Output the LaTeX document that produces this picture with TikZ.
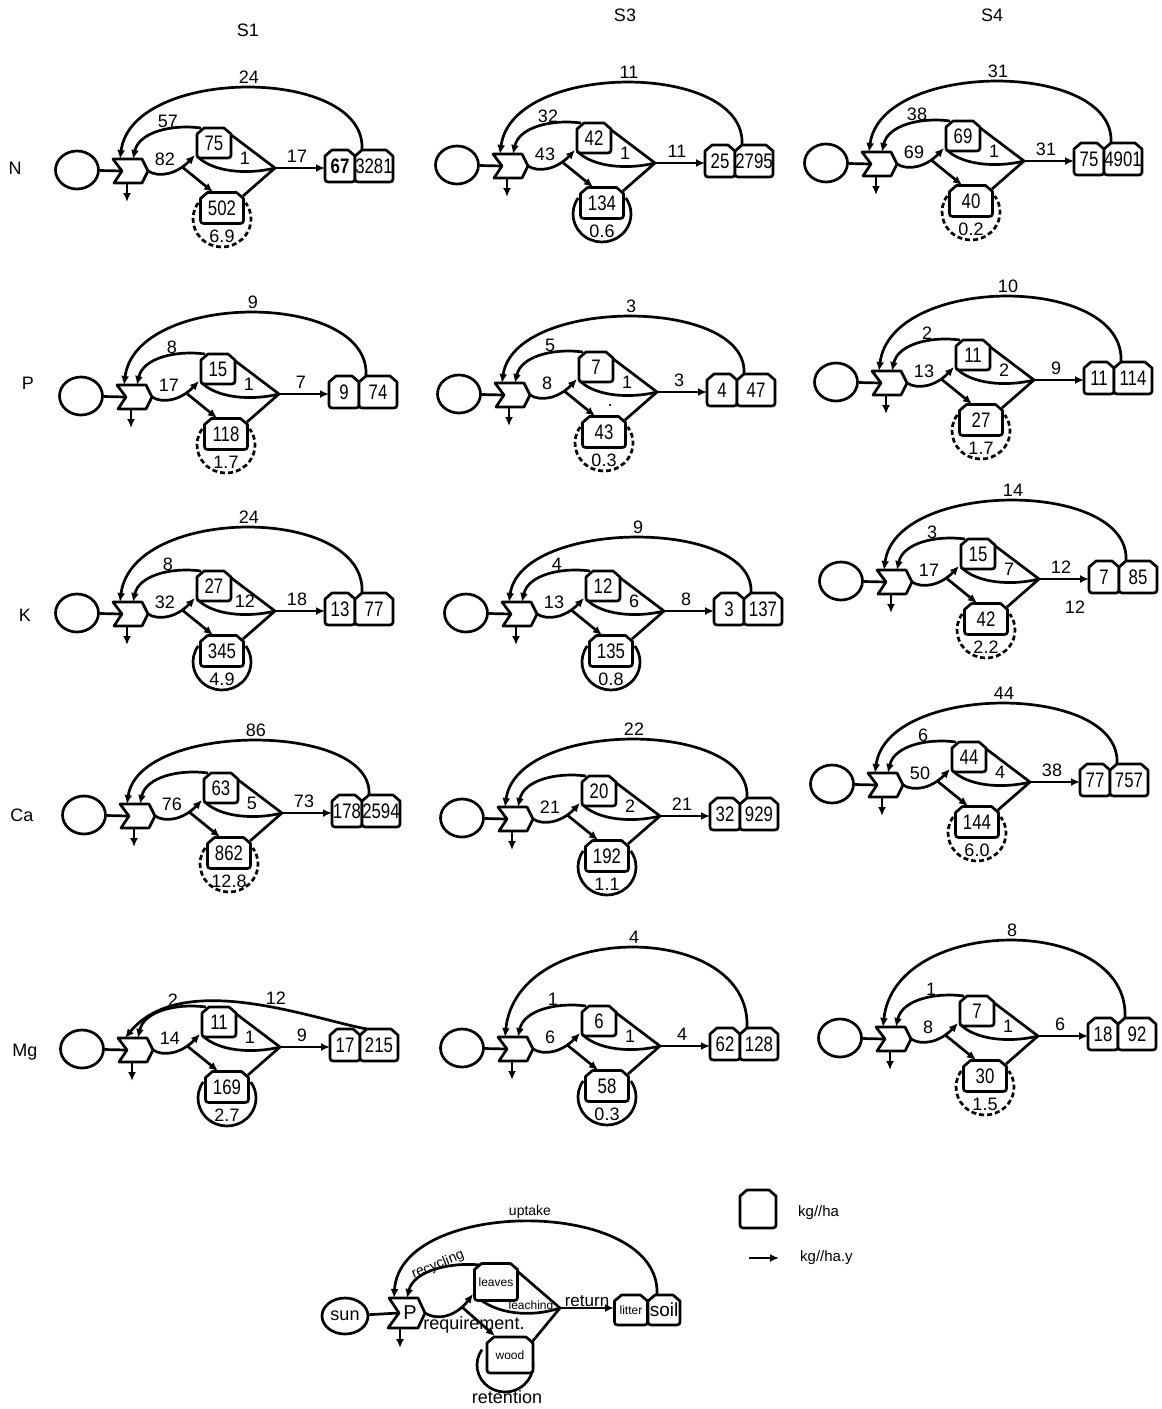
\documentclass[tikz,border=0pt]{standalone}
\usepackage{fontspec}
\setmainfont{Liberation Sans}
\newfontfamily\tankfont[FakeStretch=0.8]{Liberation Sans}
\usetikzlibrary{arrows.meta,shapes.geometric}

\tikzset{
  ln/.style={line width=2.7pt,line join=round},
  flow/.style={ln,-{Latex[length=9pt,width=8pt]}},
  tankline/.style={ln,fill=white},
  tanktext/.style={inner sep=0pt,font=\tankfont\fontsize{21}{21}\selectfont},
  lbl/.style={inner sep=0pt,font=\fontsize{18}{18}\selectfont},
  sunc/.style={ellipse,draw,ln,fill=white,inner sep=0pt,minimum width=43pt,minimum height=38pt},
  cycring/.style={},
  dashring/.style={dash pattern=on 5pt off 3pt},
}

\newif\ifcflat
\pgfkeys{/cyc/.cd,
  id/.store in=\cId, pos/.store in=\cPos, h/.store in=\cH,
  up/.store in=\cUp, rec/.store in=\cRec, req/.store in=\cReq, lch/.store in=\cLch,
  rtn/.store in=\cRtn, ret/.store in=\cRet, lv/.store in=\cLv, wd/.store in=\cWd,
  lt/.store in=\cLt, sl/.store in=\cSl,
  flat/.code={\cflattrue},
  ring/.code={\tikzset{cycring/.style={#1}}}}

% storage tank: name, x, y, width, height, text
\newcommand\Tank[6]{%
  \draw[tankline] ({#2-#4/2},{#3+#5/2-6}) -- ({#2-#4/2},{#3-#5/2+6}) -- ({#2-#4/2+7},{#3-#5/2})
    -- ({#2+#4/2-7},{#3-#5/2}) -- ({#2+#4/2},{#3-#5/2+6}) -- ({#2+#4/2},{#3+#5/2-6})
    .. controls ({#2+#4/2},{#3+#5/2}) .. ({#2+#4/2-7},{#3+#5/2}) -- ({#2-#4/2+7},{#3+#5/2})
    .. controls ({#2-#4/2},{#3+#5/2}) .. ({#2-#4/2},{#3+#5/2-6}) -- cycle;
  \node[tanktext,minimum width=#4pt,minimum height=#5pt] (#1) at (#2,#3) {#6};}

% one nutrient cycle, placed by the centre of its source circle
\newcommand\Cycle[1]{%
 \cflatfalse
 \pgfkeys{/cyc/.cd,h=82,rec={},ring={},#1}%
 \pgfmathsetmacro\cC{-(\cH-3.9)*4/3}%
 \begin{scope}[shift={(\cPos)}]
  \draw[ln,cycring] (145,49) ++(215:29 and 28) arc[start angle=215,end angle=-35,x radius=29,y radius=28];
  \coordinate (\cId-in) at (45,1);
  \coordinate (\cId-tip) at (71,1);
  \coordinate (\cId-upend) at (43,-11);
  \coordinate (\cId-recend) at (56,-11);
  \coordinate (\cId-pb) at (50,13);
  \coordinate (\cId-out) at (50,32);
  \coordinate (\cId-J) at (198,-2);
  \coordinate (\cId-br) at (104.6,-3.5);
  \coordinate (\cId-lvin) at (118,-15);
  \coordinate (\cId-lvtl) at (124,-42);
  \coordinate (\cId-lvtr) at (153,-36);
  \coordinate (\cId-lvbl) at (120,-14);
  \coordinate (\cId-wdin) at (136,22);
  \coordinate (\cId-wdtr) at (166,26);
  \coordinate (\cId-ltin) at (248,-2);
  \coordinate (\cId-slup) at (285,-20);
  \node[sunc] (\cId-sun) at (0,0) {};
  \draw[ln] (\cId-sun) -- (\cId-in);
  \draw[flow] (\cId-pb) -- (\cId-out);
  \ifcflat
   \draw[flow] (\cId-slup) .. controls (230,-30) and (100,-80) .. (\cId-upend);
   \node[lbl] (\cId-tup) at (194,-51) {\cUp};
  \else
   \draw[flow] (\cId-slup) .. controls (290,\cC) and (55,\cC) .. (\cId-upend);
   \node[lbl] (\cId-tup) at (172,{-\cH-11}) {\cUp};
  \fi
  \draw[flow] (\cId-lvtl) .. controls (95,-46) and (62,-38) .. (\cId-recend);
  \draw[flow] (\cId-tip) .. controls (82,8) and (100,4) .. (\cId-lvin);
  \draw[flow] (\cId-br) -- (\cId-wdin);
  \draw[ln] (\cId-lvtr) -- (\cId-J);
  \draw[ln] (\cId-lvbl) .. controls (135,2) and (170,5) .. (\cId-J);
  \draw[ln] (\cId-wdtr) -- (\cId-J);
  \draw[flow] (\cId-J) -- (\cId-ltin);
  \draw[ln,fill=white] (36,-11) -- (65,-11) -- (\cId-tip) -- (65,13) -- (37,13) -- (\cId-in) -- cycle;
  \Tank{\cId-lv}{137}{-27}{34}{30}{\cLv}
  \Tank{\cId-wd}{145}{38}{43}{31}{\cWd}
  \Tank{\cId-lt}{263}{-4}{30}{32}{\cLt}
  \Tank{\cId-sl}{297}{-4}{38}{32}{\cSl}
  \node[lbl] (\cId-trec) at (91,-49) {\cRec};
  \node[lbl] (\cId-treq) at (88,-11) {\cReq};
  \node[lbl] (\cId-tlch) at (168,-12) {\cLch};
  \node[lbl] (\cId-trtn) at (220,-14) {\cRtn};
  \node[lbl] (\cId-tret) at (145,66) {\cRet};
 \end{scope}}

\begin{document}
\begin{tikzpicture}[x=1pt,y=-1pt]
\fill[white] (0,0) rectangle (1162,1409);
\useasboundingbox (0,0) rectangle (1162,1409);

% column and row headings
\node[lbl] (h1) at (248,30) {S1};
\node[lbl] (h3) at (625,15) {S3};
\node[lbl] (h4) at (992,15) {S4};
\node[lbl] (rN) at (15,168) {N};
\node[lbl] (rP) at (28,383) {P};
\node[lbl] (rK) at (25,615) {K};
\node[lbl] (rCa) at (22,815) {Ca};
\node[lbl] (rMg) at (25,1052) {Mg};

% N
\Cycle{id=nA,pos={77,170},h=82,up=24,rec=57,req=82,lch=1,rtn=17,ret=6.9,lv=75,wd=502,lt={\bfseries 67},sl=3281,ring=dashring}
\Cycle{id=nB,pos={457,165},h=82,up=11,rec=32,req=43,lch=1,rtn=11,ret=0.6,lv=42,wd=134,lt=25,sl=2795}
\Cycle{id=nC,pos={826,163},h=81,up=31,rec=38,req=69,lch=1,rtn=31,ret=0.2,lv=69,wd=40,lt=75,sl=4901,ring=dashring}
% P
\Cycle{id=pA,pos={81,396},h=83,up=9,rec=8,req=17,lch=1,rtn=7,ret=1.7,lv=15,wd=118,lt=9,sl=74,ring=dashring}
\Cycle{id=pB,pos={459,394},h=77,up=3,rec=5,req=8,lch=1,rtn=3,ret=0.3,lv=7,wd=43,lt=4,sl=47,ring=dashring}
\node[lbl] (pB-dot) at (610,406) {.};
\Cycle{id=pC,pos={836,382},h=85,up=10,rec=2,req=13,lch=2,rtn=9,ret=1.7,lv=11,wd=27,lt=11,sl=114,ring=dashring}
% K
\Cycle{id=kA,pos={77,613},h=85,up=24,rec=8,req=32,lch=12,rtn=18,ret=4.9,lv=27,wd=345,lt=13,sl=77}
\Cycle{id=kB,pos={466,613},h=75,up=9,rec=4,req=13,lch=6,rtn=8,ret=0.8,lv=12,wd=135,lt=3,sl=137}
\Cycle{id=kC,pos={841,581},h=80,up=14,rec=3,req=17,lch=7,rtn=12,ret=2.2,lv=15,wd=42,lt=7,sl=85,ring=dashring}
\node[lbl] (kC-extra) at (1075,607) {12};
% Ca
\Cycle{id=cA,pos={84,815},h=74,up=86,req=76,lch=5,rtn=73,ret=12.8,lv=63,wd=862,lt=178,sl=2594,ring=dashring}
\Cycle{id=cB,pos={462,818},h=78,up=22,req=21,lch=2,rtn=21,ret=1.1,lv=20,wd=192,lt=32,sl=929}
\Cycle{id=cC,pos={832,784},h=80,up=44,rec=6,req=50,lch=4,rtn=38,ret=6.0,lv=44,wd=144,lt=77,sl=757,ring=dashring}
% Mg
\Cycle{id=mA,pos={82,1049},flat,up=12,rec=2,req=14,lch=1,rtn=9,ret=2.7,lv=11,wd=169,lt=17,sl=215}
\Cycle{id=mB,pos={462,1048},h=100,up=4,rec=1,req=6,lch=1,rtn=4,ret=0.3,lv=6,wd=58,lt=62,sl=128}
\Cycle{id=mC,pos={840,1038},h=97,up=8,rec=1,req=8,lch=1,rtn=6,ret=1.5,lv=7,wd=30,lt=18,sl=92,ring=dashring}

% key: storage and flow symbols
\Tank{lg-tank}{758}{1209}{36}{38}{}
\node[anchor=west,inner sep=0pt,font=\fontsize{15}{15}\selectfont] (lg-tanktxt) at (798,1213) {kg//ha};
\coordinate (lg-a0) at (749,1258);
\coordinate (lg-a1) at (779,1258);
\draw[flow] (lg-a0) -- (lg-a1);
\node[anchor=west,inner sep=0pt,font=\fontsize{15}{15}\selectfont] (lg-arrtxt) at (800,1258) {kg//ha.y};

% key: labelled cycle
\draw[ln] (505,1365) ++(215:28 and 27) arc[start angle=215,end angle=-35,x radius=28,y radius=27];
\coordinate (lg-in) at (399,1313);
\coordinate (lg-tip) at (425,1313);
\coordinate (lg-upend) at (394,1298);
\coordinate (lg-recend) at (407,1298);
\coordinate (lg-pb) at (400,1328);
\coordinate (lg-out) at (400,1348);
\coordinate (lg-J) at (560,1308);
\coordinate (lg-br) at (462,1307);
\coordinate (lg-lvin) at (473,1294);
\coordinate (lg-lvtl) at (480,1265);
\coordinate (lg-lvtr) at (516,1270);
\coordinate (lg-lvbl) at (476,1296);
\coordinate (lg-wdin) at (495,1336);
\coordinate (lg-wdtr) at (532,1342);
\coordinate (lg-ltin) at (614,1308);
\coordinate (lg-slup) at (657,1295);
\node[sunc,minimum width=46pt,minimum height=36pt,font=\fontsize{18}{18}\selectfont] (lg-sun) at (345,1316) {sun};
\draw[ln] (lg-sun) -- (lg-in);
\draw[flow] (lg-pb) -- (lg-out);
\draw[flow] (lg-slup) .. controls (662,1197) and (400,1197) .. (lg-upend);
\draw[flow] (lg-lvtl) .. controls (452,1262) and (414,1270) .. (lg-recend);
\draw[flow] (lg-tip) .. controls (440,1322) and (458,1314) .. (lg-lvin);
\draw[flow] (lg-br) -- (lg-wdin);
\draw[ln] (lg-lvtr) -- (lg-J);
\draw[ln] (lg-lvbl) .. controls (495,1314) and (530,1318) .. (lg-J);
\draw[ln] (lg-wdtr) -- (lg-J);
\draw[flow] (lg-J) -- (lg-ltin);
\draw[ln,fill=white] (389,1298) -- (418,1298) -- (lg-tip) -- (418,1328) -- (388,1328) -- (lg-in) -- cycle;
\node[inner sep=0pt,font=\fontsize{20}{20}\selectfont] (lg-P) at (410,1313) {P};
\Tank{lg-lv}{496}{1282}{43}{37}{\rmfamily\fontsize{12}{12}\selectfont leaves}
\Tank{lg-wd}{510}{1355}{46}{36}{\rmfamily\fontsize{12}{12}\selectfont wood}
\Tank{lg-lt}{631}{1310}{33}{30}{\rmfamily\fontsize{12}{12}\selectfont litter}
\Tank{lg-sl}{664}{1310}{32}{30}{\rmfamily\fontsize{19}{19}\selectfont soil}
\node[inner sep=0pt,font=\fontsize{14}{14}\selectfont] (lg-tup) at (530,1212) {uptake};
\node[inner sep=0pt,font=\fontsize{14}{14}\selectfont,rotate=22] (lg-trec) at (438,1265) {recycling};
\node[inner sep=0pt,font=\fontsize{17}{17}\selectfont] (lg-trtn) at (587,1301) {return};
\node[inner sep=0pt,font=\fontsize{12}{12}\selectfont] (lg-tlch) at (531,1306) {leaching};
\node[inner sep=0pt,font=\fontsize{18}{18}\selectfont] (lg-treq) at (474,1325) {requirement.};
\node[inner sep=0pt,font=\fontsize{18}{18}\selectfont] (lg-tret) at (507,1397) {retention};
\end{tikzpicture}
\end{document}
